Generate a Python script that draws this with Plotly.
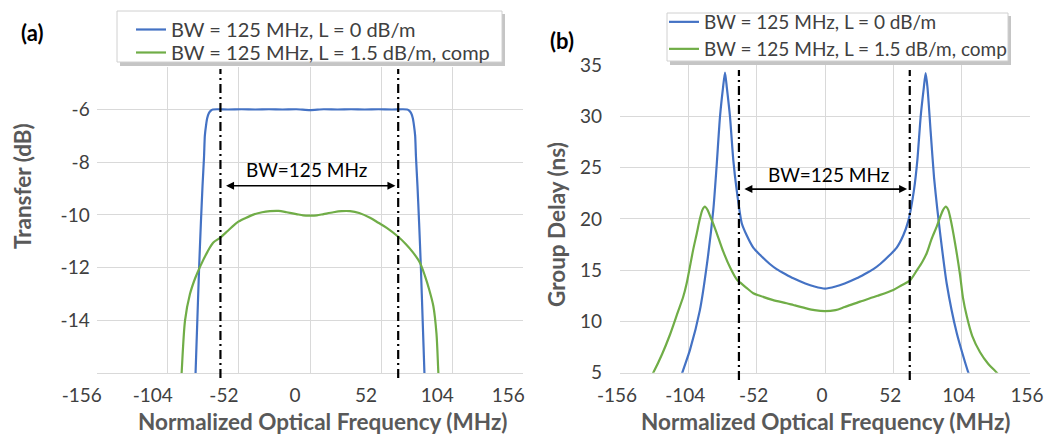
import plotly.graph_objects as go

W, H = 1047, 436

# ---------------- data: panel (a) transfer ----------------
freq_a_blue = [-85, -83.7, -82.4, -81.1, -79.8, -78.6, -77.5, -76.9, -76.0, -75.2, -74.0, -72.5, -71.0,
               -68, -60, -50, -40, -30, -20, -10, 0, 10, 20, 30, 40, 50, 60, 68,
               71.0, 72.5, 74.0, 75.2, 76.0, 76.9, 77.5, 78.6, 79.8, 81.1, 82.4, 83.7, 85]
transfer_blue = [-18.5, -16, -14, -12, -10.3, -8.9, -7.8, -7.0, -6.6, -6.34, -6.15, -6.05, -6.01,
                 -6.0, -6.01, -6.0, -6.01, -6.0, -6.01, -6.0, -6.03, -6.0, -6.01, -6.0, -6.01, -6.0, -6.01, -6.0,
                 -6.01, -6.05, -6.15, -6.34, -6.6, -7.0, -7.8, -8.9, -10.3, -12, -14, -16, -18.5]

freq_a_green = [-95, -93.9, -91.4, -87.8, -84, -80.2, -75, -70.7, -65.8, -60, -53.6, -47, -41.4, -35,
                -29.3, -23, -17.1, -10, -5, 0, 5, 10, 17.1, 23, 29.3, 36, 43.9, 50, 56.1, 64.1, 70,
                75, 80.4, 84, 87, 90.2, 92.5, 93.9, 95]
transfer_green = [-17, -16, -14, -13, -12.4, -11.94, -11.4, -11.05, -10.87, -10.6, -10.3, -10.12, -9.99, -9.9,
                  -9.86, -9.85, -9.9, -9.97, -10.02, -10.03, -10.02, -9.97, -9.9, -9.86, -9.86, -9.93, -10.11,
                  -10.3, -10.49, -10.81, -11.1, -11.4, -11.81, -12.3, -12.8, -13.45, -14.5, -16, -17]

# ---------------- data: panel (b) group delay ----------------
freq_b_blue = [-112, -108.6, -102.8, -95.2, -90.1, -85, -82.5, -79.9, -77.6, -76.1, -74.7, -72.3, -69.8,
               -67.2, -63.4, -59.6, -54.6, -49.5, -42, -36.8, -30, -24.1, -15, -8, 0,
               8, 15, 24.1, 30, 36.8, 42, 49.5, 54.6, 59.6, 63.4, 67.7, 70.3, 72.8, 75.2, 76.6, 78.0,
               80.4, 83.0, 85.5, 87.6, 92.6, 100.3, 109.1, 112]
delay_blue = [3.5, 5, 7.2, 11.1, 15.34, 20.87, 25.1, 29.97, 32.8, 34.27, 32.8, 29.97, 25.75,
              22.8, 19.6, 18.4, 17.2, 16.5, 15.6, 15.1, 14.6, 14.2, 13.7, 13.4, 13.2,
              13.4, 13.7, 14.2, 14.6, 15.1, 15.6, 16.5, 17.2, 18.4, 19.8, 22.8, 25.75, 29.97, 32.8, 34.2, 32.8,
              28.5, 24.0, 20.9, 18.6, 13.7, 8.84, 5.0, 4.2]

freq_b_green = [-136, -130.7, -124, -118, -112, -107.9, -105.3, -100.3, -97.7, -95.2, -93.2, -91.4, -89.5,
                -87.5, -85, -81, -77.4, -72, -67.2, -64.7, -60, -54.6, -49.5, -40, -29.2, -24.1, -15, -8, 0,
                8, 15, 26.6, 40, 52, 58, 64.7, 70, 74, 77.4, 81, 85, 88, 90, 91.9, 93.7, 95.5, 99, 102.8,
                105, 107.9, 112, 118, 124, 130.7, 136]
delay_green = [3.8, 5, 6.8, 8.7, 10.9, 12.4, 13.7, 17.0, 18.5, 20.0, 20.9, 21.2, 20.9,
               20.3, 19.5, 18.1, 16.8, 15.2, 14.1, 13.8, 13.3, 12.75, 12.5, 12.1, 11.77, 11.6, 11.3, 11.1, 11.0,
               11.1, 11.4, 11.93, 12.5, 13.07, 13.5, 14.0, 15.0, 15.8, 16.65, 18.0, 19.25, 20.3, 20.9, 21.2, 20.9,
               20.0, 17.6, 14.5, 12.3, 10.5, 8.6, 7.0, 5.9, 5.0, 4.2]

# ---------------- annotations / labels ----------------
series_names = ["BW = 125 MHz, L = 0 dB/m", "BW = 125 MHz, L = 1.5 dB/m, comp"]
bw_edges = [-65.5, 64.5]          # dash-dot reference lines (MHz)
bw_arrow = [-62.5, 62.5]          # BW arrow ends (MHz)
bw_label = "BW=125 MHz"
x_ticks = [-156, -104, -52, 0, 52, 104, 156]
x_tick_text = ["-156", "-104", "-52", "0", "52", "104", "156"]
ya_ticks = [-14, -12, -10, -8, -6]
ya_tick_text = ["-14", "-12", "-10", "-8", "-6"]
yb_ticks = [5, 10, 15, 20, 25, 30, 35]
yb_tick_text = ["5", "10", "15", "20", "25", "30", "35"]

BLUE = "#4472C4"
GREEN = "#70AD47"
GRID = "#D9D9D9"
TXT = "#404040"
TITLE = "#595959"
FONT = "Lato"


def px(x):
    return x / W


def py(y):
    return 1 - y / H


fig = go.Figure()

fig.add_trace(go.Scatter(x=freq_a_blue, y=transfer_blue, mode="lines", name=series_names[0],
                         line=dict(color=BLUE, width=2.2, shape="spline", smoothing=0.6),
                         xaxis="x", yaxis="y", legend="legend", showlegend=True))
fig.add_trace(go.Scatter(x=freq_a_green, y=transfer_green, mode="lines", name=series_names[1],
                         line=dict(color=GREEN, width=2.2, shape="spline", smoothing=0.8),
                         xaxis="x", yaxis="y", legend="legend3", showlegend=True))
fig.add_trace(go.Scatter(x=freq_b_blue, y=delay_blue, mode="lines", name=series_names[0],
                         line=dict(color=BLUE, width=2.2, shape="spline", smoothing=0.6),
                         xaxis="x2", yaxis="y2", legend="legend2", showlegend=True))
fig.add_trace(go.Scatter(x=freq_b_green, y=delay_green, mode="lines", name=series_names[1],
                         line=dict(color=GREEN, width=2.2, shape="spline", smoothing=0.8),
                         xaxis="x2", yaxis="y2", legend="legend4", showlegend=True))

shapes = []
# legend boxes with shadows
for (x0, y0, x1, y1) in [(117, 11, 502, 62), (667, 13, 1008, 61)]:
    shapes.append(dict(type="rect", xref="paper", yref="paper",
                       x0=px(x0 + 3), x1=px(x1 + 3), y0=py(y1 + 4), y1=py(y0 + 3),
                       fillcolor="rgba(150,150,150,0.55)", line=dict(width=0), layer="above"))
    shapes.append(dict(type="rect", xref="paper", yref="paper",
                       x0=px(x0), x1=px(x1), y0=py(y1), y1=py(y0),
                       fillcolor="white", line=dict(color="#D0D0D0", width=1), layer="above"))
# dash-dot BW edges
for xr, top, bot in [("x", 69, 378), ("x2", 70, 380)]:
    for e in bw_edges:
        shapes.append(dict(type="line", xref=xr, yref="paper", x0=e, x1=e, y0=py(bot), y1=py(top),
                           line=dict(color="black", width=2.2, dash="9px,4px,2px,4px"), layer="above"))
fig.update_layout(shapes=shapes)

ann = []
# arrows
for xr, yr, yv in [("x", "y", -8.9), ("x2", "y2", 22.9)]:
    ann.append(dict(x=bw_arrow[1], y=yv, ax=bw_arrow[0], ay=yv, xref=xr, yref=yr, axref=xr, ayref=yr,
                    text="", showarrow=True, arrowhead=2, arrowside="end+start", arrowsize=1,
                    arrowwidth=1.6, arrowcolor="black", standoff=0, startstandoff=0))
ann.append(dict(x=-2.2, y=-8.3, xref="x", yref="y", text=bw_label, showarrow=False,
                xanchor="center", yanchor="middle",
                font=dict(family=FONT, size=19, color="black")))
ann.append(dict(x=2.3, y=24.3, xref="x2", yref="y2", text=bw_label, showarrow=False,
                xanchor="center", yanchor="middle",
                font=dict(family=FONT, size=19, color="black")))
# panel labels
ann.append(dict(x=px(32), y=py(32), xref="paper", yref="paper", text="<b>(a)</b>", showarrow=False,
                xanchor="center", yanchor="middle",
                font=dict(family=FONT, size=22, color="black")))
ann.append(dict(x=px(562), y=py(40), xref="paper", yref="paper", text="<b>(b)</b>", showarrow=False,
                xanchor="center", yanchor="middle",
                font=dict(family=FONT, size=22, color="black")))
# axis titles
for cx, cy, t, ang in [(322, 421, "Normalized Optical Frequency (MHz)", 0),
                       (825, 421, "Normalized Optical Frequency (MHz)", 0),
                       (22, 186, "Transfer (dB)", -90),
                       (557, 225, "Group Delay (ns)", -90)]:
    ann.append(dict(x=px(cx), y=py(cy), xref="paper", yref="paper", text="<b>%s</b>" % t,
                    showarrow=False, textangle=ang, xanchor="center", yanchor="middle",
                    font=dict(family=FONT, size=22.5, color=TITLE)))
fig.update_layout(annotations=ann)

axis_common = dict(showgrid=True, gridcolor=GRID, gridwidth=1, zeroline=False, automargin=False,
                   tickfont=dict(family=FONT, size=19, color=TXT), ticks="")

legend_common = dict(xanchor="left", yanchor="top", bgcolor="rgba(0,0,0,0)", borderwidth=0,
                     itemwidth=30, tracegroupgap=0)

fig.update_layout(
    width=W, height=H,
    showlegend=True,
    margin=dict(l=0, r=0, t=0, b=0, autoexpand=False),
    paper_bgcolor="white", plot_bgcolor="white",
    font=dict(family=FONT, color=TXT),
    xaxis=dict(domain=[px(96.7), px(523.3)], range=[-156, 156], tickvals=x_ticks, ticktext=x_tick_text,
               anchor="y", showline=True, linecolor=GRID, linewidth=1, ticklabelshift=-15,
               ticklabelstandoff=5, **axis_common),
    yaxis=dict(domain=[py(373.3), py(67)], range=[-16, -4.4], tickvals=ya_ticks, ticktext=ya_tick_text,
               anchor="x", showline=False, ticklabelstandoff=6, **axis_common),
    xaxis2=dict(domain=[px(620), px(1030)], range=[-156, 156], tickvals=x_ticks, ticktext=x_tick_text,
                anchor="y2", showline=True, linecolor=GRID, linewidth=1, ticklabelshift=-3,
                ticklabelstandoff=5, **axis_common),
    yaxis2=dict(domain=[py(372.7), py(65)], range=[5, 35], tickvals=yb_ticks, ticktext=yb_tick_text,
                anchor="x2", showline=False, ticklabelstandoff=17, **axis_common),
    legend=dict(x=px(131), y=py(10), font=dict(family=FONT, size=20, color=TXT), **legend_common),
    legend3=dict(x=px(131), y=py(33), font=dict(family=FONT, size=20, color=TXT), **legend_common),
    legend2=dict(x=px(664), y=py(3), font=dict(family=FONT, size=19, color=TXT), **legend_common),
    legend4=dict(x=px(664), y=py(30), font=dict(family=FONT, size=19, color=TXT), **legend_common),
)

fig.write_html("out.html")
